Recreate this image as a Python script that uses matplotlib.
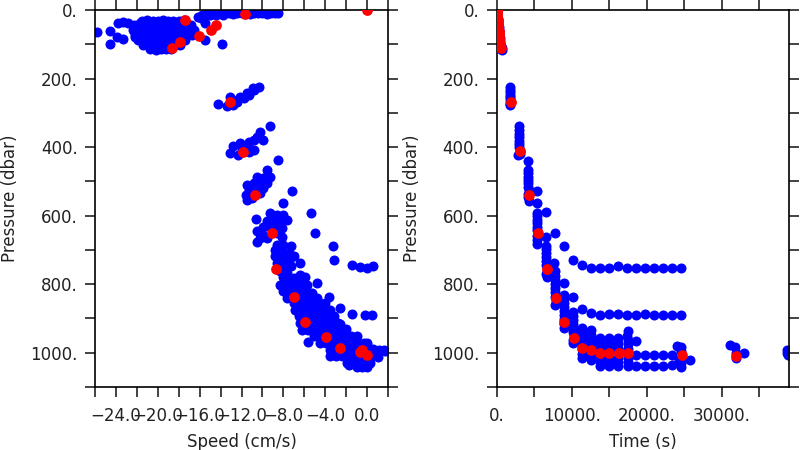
import numpy as np
import matplotlib
matplotlib.use("Agg")
import matplotlib.pyplot as plt

# ---------------- LEFT PANEL DATA: speed (cm/s) vs pressure (dbar) ----------------
# surface blob (rows of constant pressure)
blob_speed = [-21.5, -21.0, -20.5, -20.0, -19.5, -19.0, -18.5, -18.0, -17.5,
              -22.3, -21.8, -21.3, -20.8, -20.3, -19.8, -19.3, -18.8, -18.3, -17.8, -17.3, -16.8,
              -22.4, -21.9, -21.4, -20.9, -20.4, -19.9, -19.4, -18.9, -18.4, -17.9, -17.4, -16.9, -16.5,
              -22.2, -21.7, -21.2, -20.7, -20.2, -19.7, -19.2, -18.7, -18.2, -17.7, -17.2, -16.7,
              -21.9, -21.4, -20.9, -20.4, -19.9, -19.4, -18.9, -18.4, -17.9, -17.4,
              -21.4, -20.9, -20.4, -19.9, -19.4, -18.9, -18.4, -17.9,
              -20.7, -20.2, -19.7, -19.2, -18.7]
blob_pres = [31, 30, 32, 31, 30, 31, 32, 31, 30,
             44, 45, 44, 43, 44, 45, 44, 43, 44, 45, 44, 43,
             58, 59, 58, 57, 58, 59, 58, 57, 58, 59, 58, 57, 58,
             73, 72, 73, 74, 73, 72, 73, 74, 73, 72, 73, 74,
             87, 88, 87, 86, 87, 88, 87, 86, 87, 88,
             102, 101, 102, 103, 102, 101, 102, 103,
             115, 116, 115, 114, 115]

# surface band, outliers and upper clusters
upper_speed = [-15.2, -14.8, -14.4, -14.0, -13.6, -13.2, -12.8, -12.4, -12.0, -11.6, -11.2,
               -10.8, -10.4, -10.0, -9.6, -9.2, -8.8, -8.5, -15.6, -15.0, -14.4, -13.8,
               -16.2, -15.8, -15.9, -15.5,
               -25.8, -24.6, -23.9, -23.3, -24.6, -23.8, -23.3, -22.8, -21.7, -22.2, -15.5, -13.9,
               -14.2, -13.4, -12.8, -12.1, -11.5, -10.85, -10.3, -10.9, -12.4, -11.8, -11.3, -12.8, -13.1,
               -9.25, -10.2, -10.5, -9.9, -10.85, -11.3, -12.1, -12.8, -13.1, -12.3, -11.3, -10.85, -8.5,
               -11.6, -12.0,
               -9.6, -9.25, -9.9, -10.5, -9.6, -10.2, -10.85, -11.5, -11.3, -10.5, -9.9, -11.6, -11.5,
               -11.0, -10.2, -7.2, -8.0,
               -10.6, -9.25, -8.6, -8.0, -7.65, -8.3, -8.9, -9.6, -9.9, -9.25, -8.6, -8.1, -10.5,
               -9.9, -10.2, -10.5, -9.6, -8.6, -5.4, -5.0, -8.1]
upper_pres = [10, 9, 11, 10, 9, 10, 11, 10, 9, 10, 11,
              10, 9, 10, 11, 10, 9, 10, 16, 15, 16, 15,
              20, 16, 24, 39,
              63, 60, 78, 86, 100, 37, 34, 37, 37, 78, 87, 100,
              274, 280, 262, 253, 243, 233, 225, 228, 267, 258, 248, 277, 255,
              338, 355, 371, 379, 379, 384, 389, 398, 418, 423, 413, 408, 439,
              400, 405,
              466, 486, 491, 486, 505, 505, 505, 510, 525, 525, 520, 539, 554,
              549, 534, 527, 563,
              609, 593, 598, 598, 612, 612, 612, 617, 632, 632, 632, 637, 646,
              656, 666, 676, 666, 651, 591, 650, 662]

# deep band (rows) and outliers
deep_speed = [-8.6, -8.0, -7.3, -8.8, -8.1, -7.5, -7.0, -8.8, -8.1, -7.5, -8.6, -8.0, -7.3,
              -8.3, -7.65, -8.0, -6.45,
              -7.65, -7.0, -6.4, -5.9, -8.3, -7.65, -7.0, -6.4, -5.75, -8.0, -7.3, -6.55,
              -5.9, -5.3, -7.65, -6.1, -5.4, -4.8, -4.8, -3.6, -2.6,
              -3.25, -3.2, -1.4, -0.64, 0.0, 0.57, -1.4, -0.16, 0.48,
              -7.0, -6.4, -5.8, -5.2, -4.6, -4.0,
              -6.9, -6.3, -5.7, -5.1, -4.5, -3.9, -3.5,
              -6.5, -5.9, -5.3, -4.7, -4.1, -3.6, -3.2,
              -6.4, -5.8, -5.2, -4.6, -4.0, -3.4, -2.8, -2.6,
              -6.2, -5.6, -5.0, -4.4, -3.8, -3.2, -2.6, -2.0,
              -5.1, -4.5, -3.9, -3.3, -2.7, -2.1, -1.5, -1.0,
              -4.5, -3.9, -3.3, -2.7, -2.1, -1.5, -0.9, -0.3, 0.0,
              -3.5, -2.9, -2.3, -1.7, -1.1, -0.5, 0.1, 0.6, 1.1, 1.6,
              -3.0, -2.4, -1.8, -1.2, -0.6, 0.0, 0.5, 1.0,
              -1.9, -1.3, -0.7, -0.1, 0.3,
              -1.0, -0.5, 0.0,
              -5.6, -3.5, 1.75, -1.7]
deep_pres = [685, 685, 690, 700, 705, 710, 719, 719, 724, 729, 739, 743, 748,
             763, 766, 778, 739,
             787, 782, 773, 778, 802, 807, 802, 797, 802, 821, 826, 821,
             821, 826, 841, 841, 841, 841, 797, 836, 870,
             690, 729, 744, 751, 752, 748, 887, 889, 891,
             855, 856, 855, 854, 855, 856,
             875, 874, 875, 876, 875, 874, 875,
             894, 895, 894, 893, 894, 895, 894,
             914, 913, 914, 915, 914, 913, 914, 915,
             933, 934, 933, 932, 933, 934, 933, 932,
             952, 953, 952, 951, 952, 953, 952, 951,
             972, 971, 972, 973, 972, 971, 972, 973, 972,
             991, 992, 991, 990, 991, 992, 991, 990, 991, 992,
             1011, 1010, 1011, 1012, 1011, 1010, 1011, 1012,
             1030, 1031, 1030, 1029, 1030,
             1042, 1043, 1042,
             969, 1011, 994, 1035]

speed_red = [-17.4, -16.1, -14.9, -14.4, -17.9, -18.6, -11.7, 0.0,
             -13.1, -11.9, -10.7, -9.1, -8.7, -7.0, -5.9, -3.9, -2.55, -0.64, 0.0, -0.48]
pres_red_left = [29, 75, 58, 44, 92, 112, 12, 0,
                 269, 413, 539, 650, 755, 838, 909, 955, 987, 998, 1006, 991]

# ---------------- RIGHT PANEL DATA: time (s) vs pressure (dbar) ----------------
time_blue = [30, 60, 100, 130, 170, 200, 240, 280, 310, 350, 390, 420, 470, 520, 600, 700, 750,
             1750, 1780, 1760, 1800, 1770, 1790, 1810, 1780, 1830,
             2950, 2980, 3000, 2990, 3010, 3020, 3000, 3040, 3050, 2890,
             4220, 4150, 4180, 4200, 4230, 4190, 4220, 4250, 4200, 4230, 4260, 5370, 5370,
             5420, 5380, 5400, 5430, 5410, 5440, 5400, 5430, 5420, 6570, 6570, 7770, 8970,
             6600, 6580, 6620, 6600, 6640, 6610, 6650, 6630, 6660,
             7690, 8970, 10130, 10130,
             11330, 12530, 13770, 14970, 16220, 17330, 18530, 19770, 20970, 22220, 23330, 24570,
             7800, 7820, 7790, 7830, 7810, 7840, 7820, 7850, 7830,
             8970, 8990, 8960, 9000, 8980, 9010, 8970, 9000, 8990, 11330,
             12570, 13770, 15020, 16220, 17330, 18530, 19770, 20970, 22170, 23330, 24570,
             10220, 10200, 10240, 10210, 10230, 10200, 10250, 10220, 10240,
             11330, 11350, 11320, 11360, 11340, 11320, 11350, 11330,
             12570, 12550, 12580, 12560, 12590, 12570, 12560,
             13770, 13750, 13780, 13760, 13770, 13780, 13760,
             15020, 15000, 15030, 15010, 15020, 15030, 15010,
             16220, 16200, 16230, 16210, 16220, 16240, 16210,
             17470, 17450, 17480, 17460, 17470, 17480, 17460, 17470,
             18570, 18570, 18570, 19770, 19770, 20970, 20970, 22170, 22170, 23330, 23330,
             24000, 24530, 24530, 24530, 24530, 24530, 24300, 25770,
             31100, 31780, 31900, 31900, 32970,
             38750, 38750, 38800]
pres_blue_right = [2, 10, 18, 26, 34, 42, 50, 58, 66, 74, 82, 90, 98, 106, 114, 118, 112,
                   226, 233, 240, 247, 254, 261, 268, 275, 278,
                   338, 350, 362, 372, 382, 392, 400, 410, 420, 423,
                   440, 466, 476, 486, 496, 506, 516, 526, 536, 546, 556, 527, 562,
                   592, 602, 612, 622, 632, 642, 660, 670, 682, 589, 661, 650, 688,
                   688, 698, 710, 722, 732, 744, 762, 770, 778,
                   739, 797, 729, 838,
                   745, 753, 753, 753, 748, 753, 753, 752, 753, 753, 753, 754,
                   763, 775, 788, 800, 812, 824, 836, 848, 860,
                   831, 843, 855, 867, 879, 891, 903, 915, 928, 872,
                   883, 889, 886, 888, 890, 889, 887, 889, 891, 889, 891,
                   880, 892, 904, 916, 928, 940, 952, 964, 972,
                   928, 940, 952, 964, 976, 990, 1003, 1015,
                   935, 948, 960, 972, 985, 1008, 1020,
                   957, 972, 986, 990, 1016, 1028, 1040,
                   957, 972, 986, 990, 1016, 1028, 1040,
                   957, 972, 986, 990, 1016, 1028, 1040,
                   938, 950, 962, 975, 988, 1015, 1028, 1040,
                   967, 1008, 1040, 1006, 1040, 1006, 1040, 1006, 1040, 1006, 1036,
                   980, 983, 996, 1015, 1030, 1042, 1020, 1020,
                   977, 983, 1000, 1015, 1001,
                   991, 1000, 1006]

time_red = [0, 20, 50, 80, 110, 140, 170, 210, 240, 270, 300, 330, 360, 400, 440, 520,
            1870, 3100, 4300, 5500, 6670, 7870, 9000, 10260, 11420, 12600, 13800, 15020,
            16250, 17470, 24670, 31920]
pres_red_right = [0, 5, 12, 20, 28, 36, 44, 52, 60, 68, 76, 84, 92, 100, 106, 112,
                  268, 411, 540, 650, 755, 839, 909, 957, 987, 993, 1001, 1001,
                  1001, 1001, 1006, 1009]

# ---------------- TICKS ----------------
speed_ticks = [-26, -24, -22, -20, -18, -16, -14, -12, -10, -8, -6, -4, -2, 0, 2]
speed_labels = ['', '\u221224.0', '', '\u221220.0', '', '\u221216.0', '', '\u221212.0', '',
                '\u22128.0', '', '\u22124.0', '', '0.0', '']
pres_ticks = [0, 100, 200, 300, 400, 500, 600, 700, 800, 900, 1000, 1100]
pres_labels = ['0.', '', '200.', '', '400.', '', '600.', '', '800.', '', '1000.', '']
time_ticks = [0, 5000, 10000, 15000, 20000, 25000, 30000, 35000]
time_labels = ['0.', '', '10000.', '', '20000.', '', '30000.', '']

BLUE = '#0000ff'
RED = '#ff0000'

plt.rcParams['font.family'] = ['DejaVu Sans']
fig = plt.figure(figsize=(8, 4.5), dpi=100)
axL = fig.add_axes([0.11875, 0.14, 0.36625, 0.8378])
axR = fig.add_axes([0.6209, 0.14, 0.36535, 0.8378])


def style(ax):
    for sp in ax.spines.values():
        sp.set_linewidth(1.2)
    ax.tick_params(direction='out', length=7.5, width=1.2, top=True, right=True,
                   labeltop=False, labelright=False, labelsize=12, colors='#222222')
    ax.tick_params(axis='x', pad=7)
    ax.tick_params(axis='y', pad=5)
    ax.set_ylim(1100, 0)
    ax.set_yticks(pres_ticks, pres_labels)
    ax.set_ylabel('Pressure (dbar)', fontsize=12, color='#222222', labelpad=8)


sB = 52
sRd = 60
lspeed = blob_speed + upper_speed + deep_speed
lpres = blob_pres + upper_pres + deep_pres
axL.scatter(lspeed, lpres, s=sB, c=BLUE, linewidths=0, zorder=2)
axL.scatter(speed_red, pres_red_left, s=sRd, c=RED, linewidths=0, zorder=3)
axL.set_xlim(-26, 2)
axL.set_xticks(speed_ticks, speed_labels)
axL.set_xlabel('Speed (cm/s)', fontsize=12, color='#222222', labelpad=6)
style(axL)

axR.scatter(time_blue, pres_blue_right, s=sB, c=BLUE, linewidths=0, zorder=2)
axR.scatter(time_red, pres_red_right, s=sRd, c=RED, linewidths=0, zorder=3)
axR.set_xlim(0, 39000)
axR.set_xticks(time_ticks, time_labels)
axR.set_xlabel('Time (s)', fontsize=12, color='#222222', labelpad=6)
style(axR)

fig.savefig('out.png', dpi=100)
